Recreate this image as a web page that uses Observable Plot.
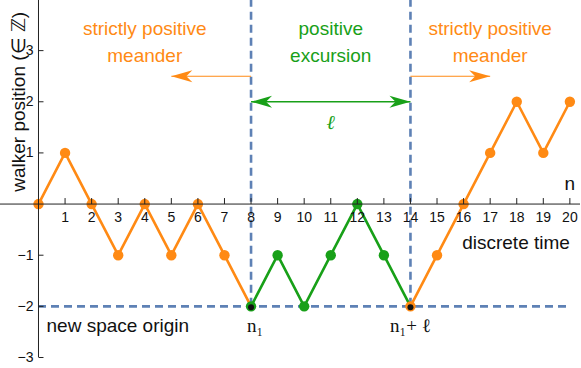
<!DOCTYPE html>
<html><head><meta charset="utf-8">
<script src="https://cdn.jsdelivr.net/npm/d3@7"></script>
<script src="https://cdn.jsdelivr.net/npm/@observablehq/plot@0.6"></script>
<style>body{margin:0;background:#fff}</style>
</head><body><div id="chart"></div>
<script>
// ---- data ----
const steps = d3.range(0, 21);
const positions = [0,1,0,-1,0,-1,0,-1,-2,-1,-2,-1,0,-1,-2,-1,0,1,2,1,2];
const excursionStart = 8;
const excursionEnd = 14;
const originLevel = -2;
const xTicks = d3.range(1, 21);
const yTicks = [-3, -2, -1, 1, 2, 3];
const regionCentersX = [4, 11, 17];
const regionTexts = ["strictly positive\nmeander", "positive\nexcursion", "strictly positive\nmeander"];
const meanderArrowEnds = [5, 17];
const meanderArrowLevel = 2.5;
const lengthArrowLevel = 2;

// ---- styles ----
const ORANGE = "#ff8a14";
const GREEN = "#18a018";
const BLUE = "#5e81b5";
const AXIS = "#222";
const X_DOMAIN = [-1.43, 20.4];
const Y_DOMAIN = [-3, 3.98];

const walk = steps.map((s, i) => ({x: s, y: positions[i]}));
const seg1 = walk.slice(0, excursionStart + 1);
const seg2 = walk.slice(excursionStart, excursionEnd + 1);
const seg3 = walk.slice(excursionEnd);
const dotColor = d => (d.x >= excursionStart && d.x < excursionEnd) ? GREEN : ORANGE;
const orangeDots = walk.filter(d => dotColor(d) === ORANGE);
const greenDots = walk.filter(d => dotColor(d) === GREEN);
const junctions = walk.filter(d => d.x === excursionStart || d.x === excursionEnd);

const vTick = {draw(ctx) { ctx.moveTo(0, 0); ctx.lineTo(0, -6); }};
const hTick = {draw(ctx) { ctx.moveTo(0, 0); ctx.lineTo(5, 0); }};
const head = {draw(ctx) { ctx.moveTo(0, 0); ctx.lineTo(-21, -6); ctx.lineTo(-15, 0); ctx.lineTo(-21, 6); ctx.closePath(); }};

const meanderArrows = [
  {x1: excursionStart, x2: meanderArrowEnds[0], y: meanderArrowLevel},
  {x1: excursionEnd, x2: meanderArrowEnds[1], y: meanderArrowLevel}
];
const lengthHeads = [
  {x: excursionStart, rot: 180},
  {x: excursionEnd, rot: 0}
];
const regions = regionCentersX.map((x, i) => ({x, text: regionTexts[i]}));

const fmt = d => d < 0 ? "\u2212" + Math.abs(d) : String(d);

const chart = Plot.plot({
  width: 581,
  height: 368,
  marginLeft: 0,
  marginRight: 1,
  marginTop: 0,
  marginBottom: 11,
  x: {domain: X_DOMAIN, axis: null},
  y: {domain: Y_DOMAIN, axis: null},
  style: {fontFamily: "'Liberation Sans', Arial, sans-serif", background: "white", overflow: "visible"},
  marks: [
    // dashed guides
    Plot.ruleX([excursionStart, excursionEnd], {y1: originLevel, y2: Y_DOMAIN[1], stroke: BLUE, strokeWidth: 2.6, strokeDasharray: "8,5"}),
    Plot.ruleY([originLevel], {x1: 0, x2: 20, stroke: BLUE, strokeWidth: 2.6, strokeDasharray: "8,5"}),
    // arrows
    Plot.link(meanderArrows, {x1: "x1", x2: "x2", y1: "y", y2: "y", stroke: ORANGE, strokeWidth: 1.1}),
    Plot.dot(meanderArrows, {x: "x2", y: "y", symbol: head, rotate: d => d.x2 < d.x1 ? 180 : 0, fill: ORANGE, stroke: "none"}),
    Plot.link([{x1: excursionStart, x2: excursionEnd, y: lengthArrowLevel}], {x1: "x1", x2: "x2", y1: "y", y2: "y", stroke: GREEN, strokeWidth: 1.6}),
    Plot.dot(lengthHeads, {x: "x", y: () => lengthArrowLevel, symbol: head, rotate: "rot", fill: GREEN, stroke: "none"}),
    // walk
    Plot.line(seg1, {x: "x", y: "y", stroke: ORANGE, strokeWidth: 2.6}),
    Plot.line(seg2, {x: "x", y: "y", stroke: GREEN, strokeWidth: 2.6}),
    Plot.line(seg3, {x: "x", y: "y", stroke: ORANGE, strokeWidth: 2.6}),
    Plot.dot(orangeDots, {x: "x", y: "y", r: 5.2, fill: ORANGE, stroke: "none"}),
    Plot.dot(greenDots, {x: "x", y: "y", r: 5.2, fill: GREEN, stroke: "none"}),
    Plot.dot(junctions, {x: "x", y: "y", r: 3, fill: "#111", stroke: "none", dy: 1}),
    // axes
    Plot.ruleY([0], {stroke: AXIS, strokeWidth: 1}),
    Plot.ruleX([0], {y1: Y_DOMAIN[0], y2: Y_DOMAIN[1], stroke: AXIS, strokeWidth: 1}),
    Plot.dot(xTicks, {x: d => d, y: () => 0, symbol: vTick, stroke: AXIS, fill: "none", strokeWidth: 1}),
    Plot.dot(yTicks, {x: () => 0, y: d => d, symbol: hTick, stroke: AXIS, fill: "none", strokeWidth: 1}),
    Plot.text(xTicks, {x: d => d, y: () => 0, dy: 13, text: d => String(d), fontSize: 14, fill: "#111"}),
    Plot.text(yTicks, {x: () => 0, y: d => d, dx: -5, textAnchor: "end", text: fmt, fontSize: 14, fill: "#111"}),
    Plot.text(["walker position (\u2208 \u2124)"], {frameAnchor: "left", y: () => 2, dx: 18, rotate: -90, textAnchor: "middle", fontSize: 19, fill: "#111"}),
    Plot.text(["n"], {x: () => 20, y: () => 0, dy: -20, fontSize: 19, fill: "#111"}),
    Plot.text(["discrete time"], {x: () => 20, y: () => 0, dy: 39, textAnchor: "end", fontSize: 19, fill: "#111"}),
    Plot.text(["new space origin"], {x: () => 0, y: () => originLevel, dx: 8, dy: 20, textAnchor: "start", fontSize: 19, fill: "#111"}),
    Plot.text(["n\u2081"], {x: () => excursionStart, y: () => originLevel, dx: 4, dy: 20, fontSize: 19, fontFamily: "'Liberation Serif', 'Times New Roman', serif", fill: "#111"}),
    Plot.text(["n\u2081+ \u2113"], {x: () => excursionEnd, y: () => originLevel, dy: 20, fontSize: 19, fontFamily: "'Liberation Serif', 'Times New Roman', serif", fill: "#111"}),
    // region labels
    Plot.text(regions.filter((d, i) => i !== 1), {x: "x", y: () => 3.21, text: "text", fontSize: 19, lineHeight: 1.42, fill: ORANGE}),
    Plot.text(regions.filter((d, i) => i === 1), {x: "x", y: () => 3.21, text: "text", fontSize: 19, lineHeight: 1.42, fill: GREEN}),
    Plot.text(["\u2113"], {x: () => (excursionStart + excursionEnd) / 2, y: () => lengthArrowLevel, dy: 21, fontSize: 20, fontStyle: "italic", fontFamily: "'Liberation Serif', 'Times New Roman', serif", fill: GREEN})
  ]
});
document.getElementById("chart").appendChild(chart);
</script>
</body></html>
